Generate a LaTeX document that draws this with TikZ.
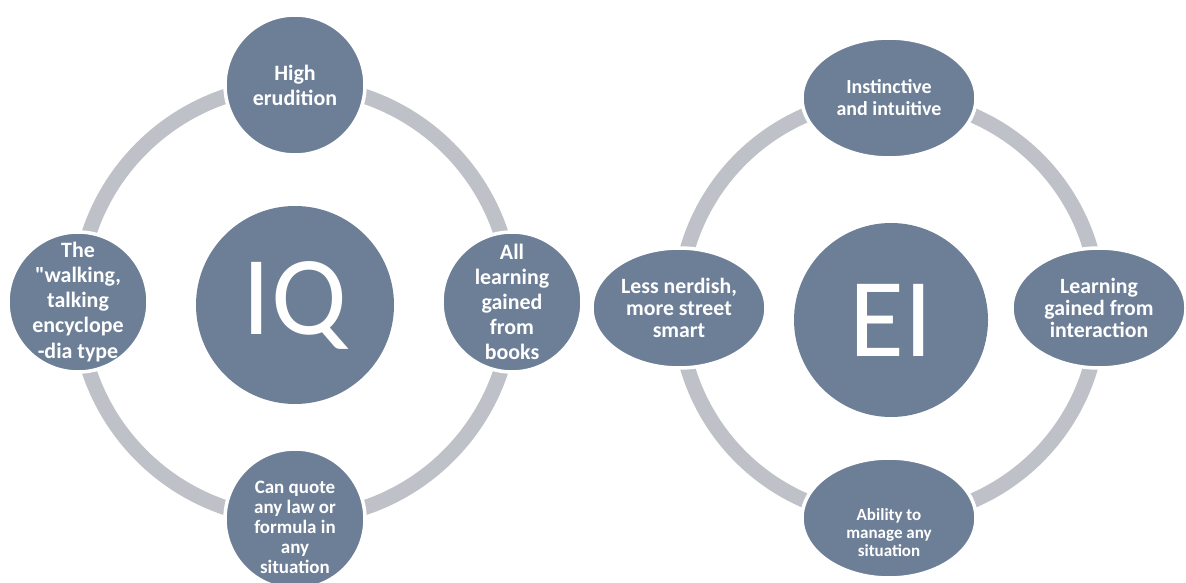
\documentclass[tikz,border=0pt]{standalone}
\usepackage{fontspec}
\setmainfont{Carlito}
\usepackage{tikz}
\usetikzlibrary{shapes.geometric,backgrounds}
\definecolor{slate}{HTML}{6D7F97}
\definecolor{ringgray}{HTML}{BEC2C8}
\tikzset{
  ringband/.style={line width=10.7pt, draw=ringgray},
  bubble/.style={circle, fill=slate, draw=white, line width=2.5pt, minimum size=3.5cm, inner sep=-0.3cm, text=white, align=center, font=\bfseries\fontsize{15.6}{17.8}\selectfont},
  ellbubble/.style={ellipse, fill=slate, draw=white, line width=2.5pt, minimum width=4.35cm, minimum height=3.0cm, inner sep=0pt, text=white, align=center, font=\bfseries\fontsize{15.5}{15.6}\selectfont},
  hubdisc/.style={circle, fill=slate, draw=none, inner sep=0pt, text=white, font=\fontsize{80}{80}\selectfont},
}

\begin{document}
\begin{tikzpicture}
\useasboundingbox (0,0) rectangle (29.650,14.550);
\node[hubdisc, minimum size=4.95cm] (iqhub) at (7.375,6.925) {IQ};
\node[bubble] (iqtop) at (7.375,12.425) {High\\erudition};
\node[bubble] (iqright) at (12.800,7.000) {All\\learning\\gained\\from\\books};
\node[bubble, font=\bfseries\fontsize{13.5}{14.2}\selectfont] (iqbot) at (7.375,1.575) {\rule{0pt}{21pt}Can quote\\any law or\\formula in\\any\\situation};
\node[bubble] (iqleft) at (1.950,7.000) {The\\\textquotedbl walking,\\talking\\encyclope\\-dia type};
\node[hubdisc, minimum size=4.85cm] (eihub) at (22.275,6.550) {EI};
\node[ellbubble, font=\bfseries\fontsize{14.2}{15.6}\selectfont] (eitop) at (22.225,12.100) {Instinctive\\and intuitive};
\node[ellbubble] (eiright) at (27.475,6.850) {Learning\\gained from\\interaction};
\node[ellbubble, font=\bfseries\fontsize{12.1}{12.8}\selectfont] (eibot) at (22.225,1.600) {\rule{0pt}{29pt}Ability to\\manage any\\situation};
\node[ellbubble] (eileft) at (16.975,6.850) {Less nerdish,\\more street\\smart};
\begin{pgfonlayer}{background}
\foreach \a/\b in {iqtop/iqright, iqright/iqbot, iqbot/iqleft, iqleft/iqtop, eitop/eiright, eiright/eibot, eibot/eileft, eileft/eitop}
  \draw[ringband] (\a.center) to[bend left=45] (\b.center);
\end{pgfonlayer}
\end{tikzpicture}
\end{document}
